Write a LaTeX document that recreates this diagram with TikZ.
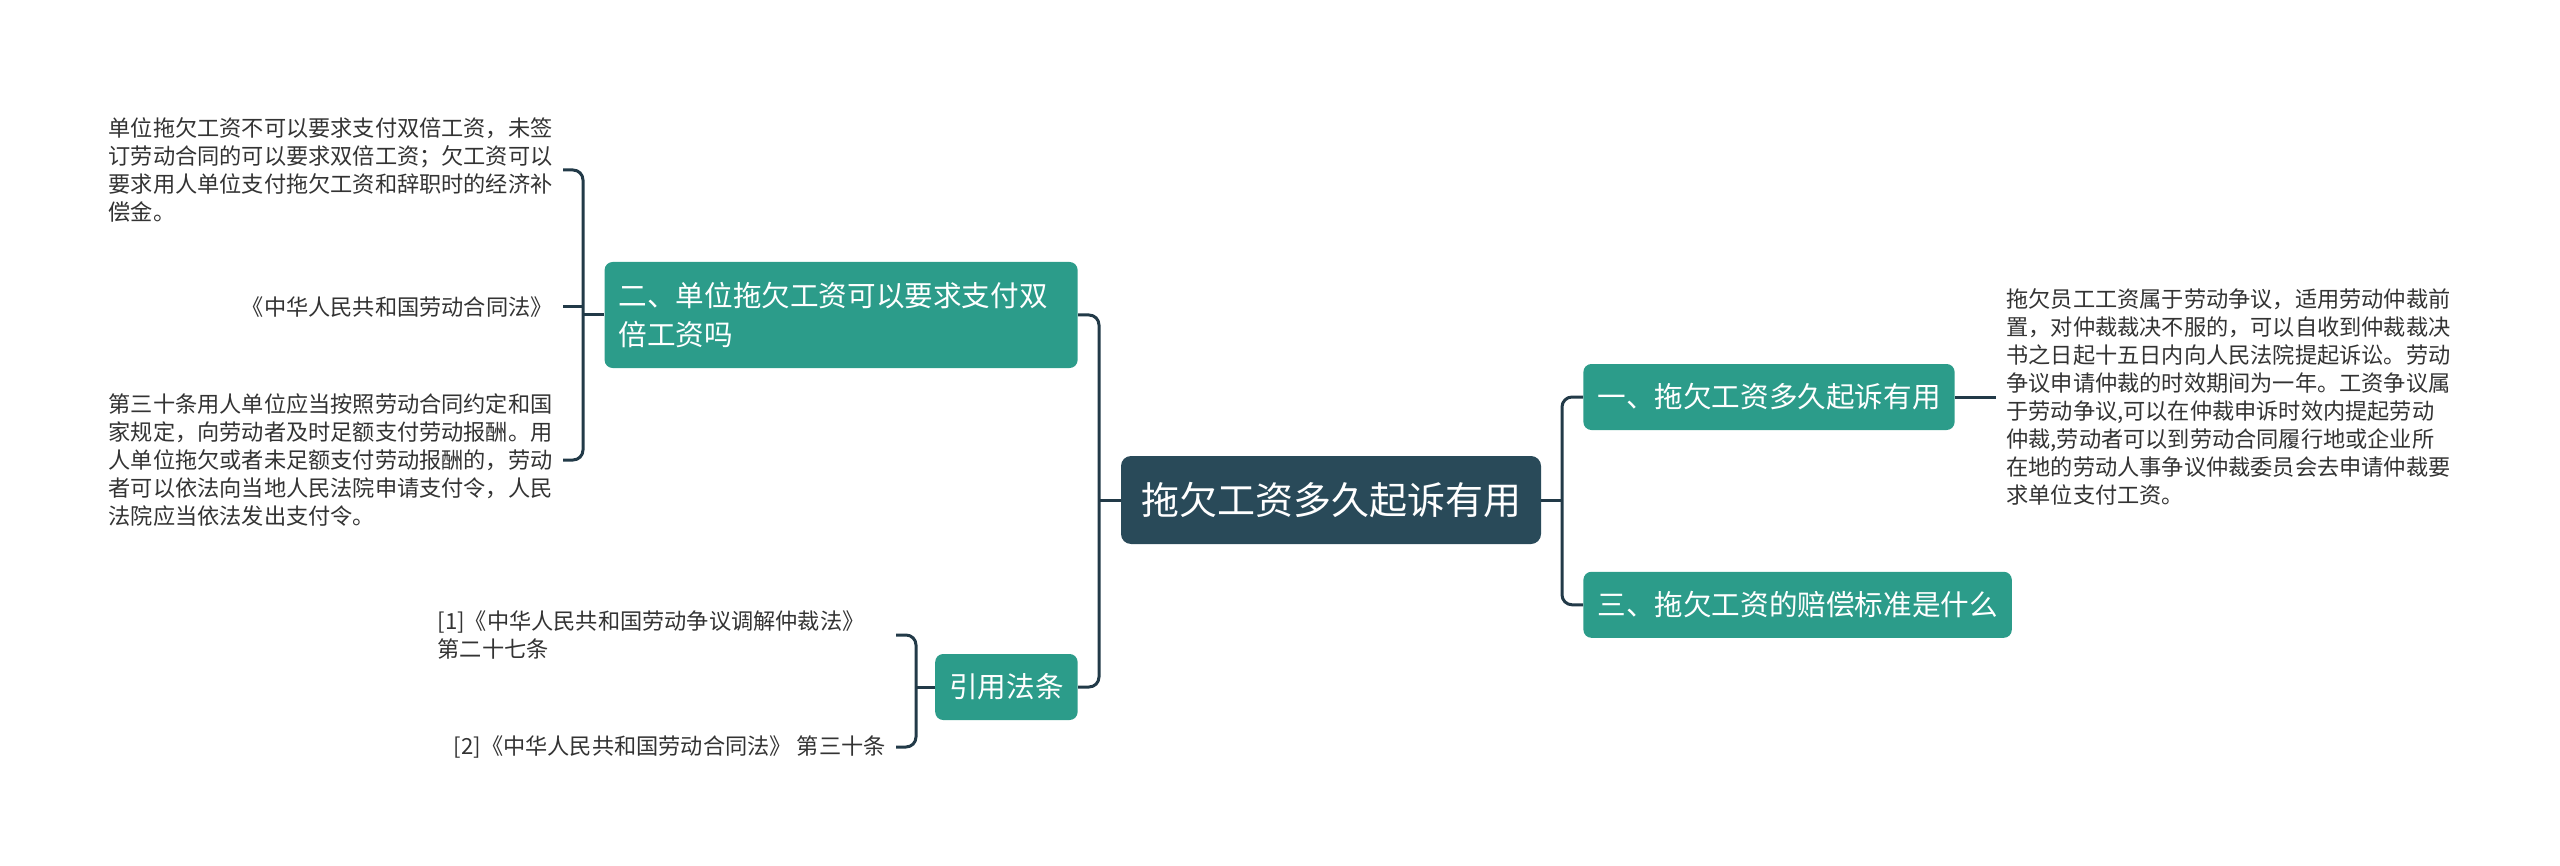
\documentclass[tikz,border=0pt]{standalone}
\usepackage{fontspec}
\setmainfont{Noto Sans CJK SC}
\usepackage{tikz}
\usetikzlibrary{positioning}
\definecolor{deepslate}{HTML}{294A59}
\definecolor{mindteal}{HTML}{2C9C8A}
\definecolor{linkdark}{HTML}{223A48}
\definecolor{bodytext}{HTML}{333333}

\begin{document}
\begin{tikzpicture}[x=0.5pt,y=-0.5pt,
  root/.style={rounded corners=5pt, fill=deepslate, text=white, minimum height=44pt,
               inner xsep=10pt, font=\fontsize{19pt}{24pt}\selectfont},
  topic/.style={rounded corners=4pt, fill=mindteal, text=white, minimum height=33pt,
                inner xsep=7pt, font=\fontsize{14.3pt}{19.5pt}\selectfont},
  leaf/.style={align=left, text=bodytext, inner sep=5pt, font=\fontsize{11.1pt}{14pt}\selectfont},
  link/.style={draw=linkdark, line width=1.5pt, rounded corners=5pt}
]
  \useasboundingbox (0,0) rectangle (2560,866);
  % main topics
  \node[root] (c) at (1331,500) {拖欠工资多久起诉有用};
  \node[topic,anchor=west] (t1) at (1583,397) {一、拖欠工资多久起诉有用};
  \node[topic,below=70.5pt of t1.south west,anchor=north west] (t3) {三、拖欠工资的赔偿标准是什么};
  \node[topic,anchor=east,text width=222.5pt,align=left,minimum height=53pt] (t2) at (1078,315)
       {二、单位拖欠工资可以要求支付双\\倍工资吗};
  \node[topic,anchor=east] (t4) at (1078,687) {引用法条};
  % details
  \node[leaf,right=20.5pt of t1] (d1)
       {拖欠员工工资属于劳动争议，适用劳动仲裁前\\置，对仲裁裁决不服的，可以自收到仲裁裁决\\书之日起十五日内向人民法院提起诉讼。劳动\\争议申请仲裁的时效期间为一年。工资争议属\\于劳动争议,可以在仲裁申诉时效内提起劳动\\仲裁,劳动者可以到劳动合同履行地或企业所\\在地的劳动人事争议仲裁委员会去申请仲裁要\\求单位支付工资。};
  \node[leaf,anchor=east] (l1) at (563,170)
       {单位拖欠工资不可以要求支付双倍工资，未签\\订劳动合同的可以要求双倍工资；欠工资可以\\要求用人单位支付拖欠工资和辞职时的经济补\\偿金。};
  \node[leaf,anchor=east] (l2) at (563,307) {《中华人民共和国劳动合同法》};
  \node[leaf,anchor=east] (l3) at (563,460)
       {第三十条用人单位应当按照劳动合同约定和国\\家规定，向劳动者及时足额支付劳动报酬。用\\人单位拖欠或者未足额支付劳动报酬的，劳动\\者可以依法向当地人民法院申请支付令，人民\\法院应当依法发出支付令。};
  \node[leaf,anchor=east,text width=224pt] (r1) at (896,635)
       {[1]《中华人民共和国劳动争议调解仲裁法》\\第二十七条};
  \node[leaf,anchor=east] (r2) at (896,747) {[2]《中华人民共和国劳动合同法》 第三十条};
  % joints
  \coordinate (lj) at (1099,500);
  \coordinate (rj) at (1562,500);
  \coordinate (aj) at (583,315);
  \coordinate (bj) at (916,687);
  % connectors
  \draw[link] (c.west) -- (lj);
  \draw[link] (c.east) -- (rj);
  \draw[link] (t2.east) -| (lj) |- (t4.east);
  \draw[link] (t1.west) -| (rj) |- (t3.west);
  \draw[link] (t1.east) -- (d1.west);
  \draw[link] (t2.west) -- (aj);
  \draw[link] (l1.east) -| (aj) |- (l3.east);
  \draw[link] (l2.east) -- (l2.east -| aj);
  \draw[link] (t4.west) -- (bj);
  \draw[link] (r1.east) -| (bj) |- (r2.east);
\end{tikzpicture}
\end{document}
